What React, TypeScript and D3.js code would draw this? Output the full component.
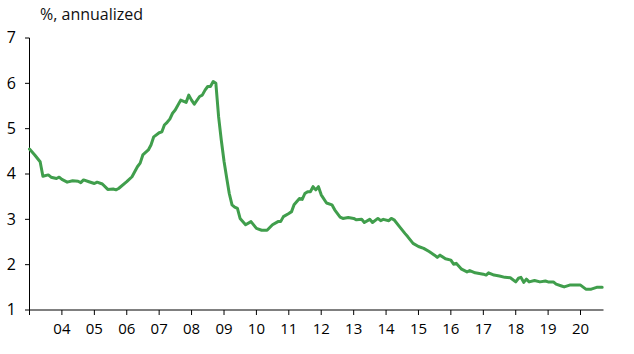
import React from "react";
import * as d3 from "d3";

const months: string[] = [
  "2003-01","2003-03","2003-05","2003-06","2003-08","2003-09","2003-11","2003-12",
  "2004-01","2004-03","2004-05","2004-07","2004-08","2004-09","2004-11",
  "2005-01","2005-02","2005-04","2005-06","2005-08","2005-09","2005-10",
  "2006-01","2006-03","2006-05","2006-06","2006-07","2006-09","2006-10","2006-11",
  "2007-01","2007-02","2007-03","2007-04","2007-05","2007-06","2007-07","2007-09","2007-11","2007-12",
  "2008-01","2008-02","2008-04","2008-05","2008-06","2008-07","2008-08","2008-09","2008-10","2008-11","2008-12",
  "2009-01","2009-02","2009-03","2009-04","2009-05","2009-06","2009-07","2009-09","2009-11",
  "2010-01","2010-03","2010-05","2010-07","2010-09","2010-10","2010-11",
  "2011-01","2011-02","2011-03","2011-05","2011-06","2011-07","2011-08","2011-09","2011-10","2011-11","2011-12",
  "2012-01","2012-03","2012-05","2012-06","2012-08","2012-09","2012-11",
  "2013-01","2013-02","2013-04","2013-05","2013-07","2013-08","2013-10","2013-11","2013-12",
  "2014-02","2014-03","2014-04","2014-06","2014-08","2014-09","2014-11",
  "2015-01","2015-03","2015-05","2015-07","2015-08","2015-09","2015-11",
  "2016-01","2016-02","2016-03","2016-05","2016-07","2016-08","2016-10",
  "2017-01","2017-02","2017-03","2017-05","2017-07","2017-09","2017-11",
  "2018-01","2018-02","2018-03","2018-04","2018-05","2018-06","2018-08","2018-10","2018-12",
  "2019-01","2019-03","2019-04","2019-06","2019-07","2019-09","2019-11",
  "2020-01","2020-03","2020-05","2020-07","2020-09",
];

const rates: number[] = [
  4.55,4.42,4.27,3.95,3.98,3.93,3.9,3.93,
  3.88,3.82,3.85,3.84,3.81,3.87,3.83,
  3.79,3.82,3.78,3.66,3.67,3.65,3.68,
  3.83,3.94,4.16,4.24,4.42,4.53,4.64,4.82,
  4.91,4.93,5.08,5.14,5.21,5.34,5.41,5.63,5.58,5.74,
  5.63,5.54,5.71,5.74,5.85,5.93,5.93,6.04,6.0,5.26,4.75,
  4.28,3.9,3.57,3.32,3.27,3.24,3.02,2.88,2.95,
  2.8,2.76,2.76,2.88,2.95,2.95,3.06,
  3.13,3.17,3.32,3.46,3.44,3.57,3.61,3.61,3.72,3.65,3.72,
  3.54,3.36,3.32,3.21,3.05,3.02,3.04,
  3.02,2.99,3.0,2.93,3.0,2.93,3.02,2.97,3.0,
  2.97,3.02,2.99,2.84,2.69,2.62,2.47,
  2.4,2.36,2.29,2.21,2.16,2.21,2.13,
  2.1,2.01,2.03,1.9,1.84,1.87,1.82,
  1.79,1.77,1.82,1.77,1.75,1.72,1.71,
  1.62,1.7,1.72,1.61,1.68,1.62,1.65,1.62,1.64,
  1.62,1.62,1.57,1.53,1.51,1.55,1.55,
  1.55,1.46,1.46,1.5,1.5,
];

const yTicks: number[] = [1, 2, 3, 4, 5, 6, 7];
const xTickYears: number[] = [2003,2004,2005,2006,2007,2008,2009,2010,2011,2012,2013,2014,2015,2016,2017,2018,2019,2020];
const xTickLabels: string[] = ["","04","05","06","07","08","09","10","11","12","13","14","15","16","17","18","19","20"];
const unitLabel = "%, annualized";

const W = 634, H = 354;
const FONT = "'Open Sans', 'Noto Sans', sans-serif";
const GREEN = "#409e4c";

export default function App() {
  const parse = d3.timeParse("%Y-%m");
  const data = months.map((m, i) => ({ date: parse(m) as Date, value: rates[i] }));

  const x = d3.scaleTime()
    .domain([new Date(2003, 0, 1), new Date(2020, 8, 16)])
    .range([29.5, 603.5]);
  const y = d3.scaleLinear().domain([1, 7]).range([310, 38]);

  const line = d3.line<{ date: Date; value: number }>()
    .x(d => x(d.date))
    .y(d => y(d.value))
    .curve(d3.curveLinear);

  const x0 = x.range()[0], x1 = x.range()[1];
  const y0 = y(1), yTop = y(7);

  return (
    <svg width={W} height={H} style={{ position: "absolute", left: 0, top: 0, background: "#fff" }}
      fontFamily={FONT}>
      <text x={40} y={20} fontSize={16} fill="#111">{unitLabel}</text>
      {/* y axis */}
      <line x1={x0} x2={x0} y1={yTop} y2={y0} stroke="#000" strokeWidth={1} />
      {yTicks.map(t => (
        <g key={t}>
          <line x1={x0 - 4.5} x2={x0} y1={y(t)} y2={y(t)} stroke="#000" strokeWidth={1} />
          <text x={16} y={y(t)} dy="0.33em" textAnchor="end" fontSize={16} fill="#000">{t}</text>
        </g>
      ))}
      {/* x axis */}
      <line x1={x0} x2={x1} y1={y0} y2={y0} stroke="#000" strokeWidth={1} />
      {xTickYears.map((yr, i) => {
        const px = x(new Date(yr, 0, 1));
        return (
          <g key={yr}>
            <line x1={px} x2={px} y1={y0} y2={y0 + 5} stroke="#000" strokeWidth={1} />
            <text x={px} y={334} textAnchor="middle" fontSize={15} fill="#000">{xTickLabels[i]}</text>
          </g>
        );
      })}
      <path d={line(data) || ""} fill="none" stroke={GREEN} strokeWidth={3} strokeLinejoin="round" strokeLinecap="round" />
    </svg>
  );
}
